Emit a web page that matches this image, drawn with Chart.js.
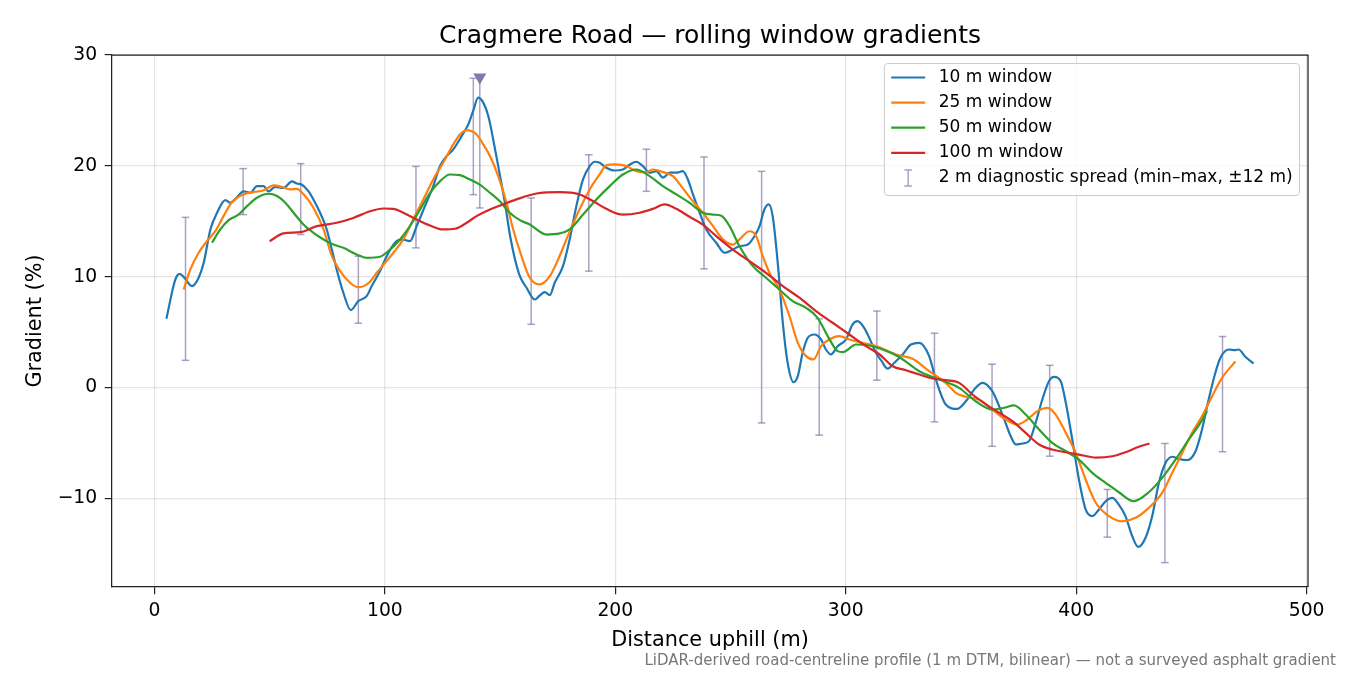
<!DOCTYPE html>
<html>
<head>
<meta charset="utf-8">
<title>Cragmere Road — rolling window gradients</title>
<script src="https://cdn.jsdelivr.net/npm/chart.js@4.4.1/dist/chart.umd.min.js"></script>
<style>
  html, body { margin: 0; padding: 0; background: #fff; }
</style>
</head>
<body>
<canvas id="gradChart" width="1350" height="675"></canvas>
<script>
// Profils de pente (distance en m, pente en %)
const dist10 = [5.2, 9.1, 11, 13, 16.3, 19.2, 21.4, 24.3, 27.2, 30.8, 32.9, 35.1, 38.7, 41.6, 44.5, 47.4, 49.5, 52.4, 56, 59.7,
  61.8, 64, 66.9, 69, 71.9, 74.8, 77, 79.1, 82, 85.2, 88.5, 92.1, 94.3, 97.9, 100.8, 104.4, 107.3, 110.9, 113.8, 117.4,
  121, 123.9, 126.8, 129.7, 133.3, 136.2, 138.3, 140.5, 142.7, 144.9, 147, 149.2, 152.1, 154.6, 158.3, 161.5, 165.1, 167.2, 169.4, 171.6,
  173.7, 177.3, 180.2, 183.1, 186, 188.9, 191.1, 193.2, 196.1, 199.7, 203.3, 206.2, 209.1, 212, 214.9, 217.8, 220.7, 223.6, 226.5, 229.3,
  231.5, 233.7, 236.6, 239.5, 243.8, 247.4, 251, 253.9, 257.5, 260.4, 262.6, 264.7, 266.6, 268.3, 270.5, 272.7, 274.8, 277.3, 279.2, 281.3,
  283.5, 286.4, 289.3, 291.4, 293.6, 296.5, 300.1, 303, 305.1, 308, 310.2, 313.1, 315.5, 318.2, 321.1, 324.7, 328.3, 331.9, 336.2, 339.1,
  343.4, 348.4, 352.1, 356.4, 359.3, 363.6, 368, 371.6, 373.8, 376.6, 379.5, 382.4, 385.3, 388.2, 390.4, 393.3, 395.5, 398.3, 401.2, 404.1,
  407, 409.9, 412.8, 415.7, 418.5, 421.4, 424.3, 426.9, 430.1, 433, 435.9, 438.8, 441.7, 444.5, 448.1, 451.8, 454.6, 457.5, 460.4, 462.6,
  466.2, 469.1, 470.5, 473.4, 477];
const grad10 = [6.2, 9.75, 10.26, 9.9, 9.15, 9.9, 11.25, 14.26, 15.77, 16.9, 16.67, 17.0, 17.7, 17.57, 18.17, 18.17, 17.7, 18.1, 18.0, 18.6,
  18.4, 18.3, 17.7, 16.97, 15.77, 14.26, 12.45, 10.65, 8.55, 6.98, 7.8, 8.24, 9.15, 10.5, 11.85, 13.06, 13.36, 13.2, 14.56, 16.36,
  18.17, 19.97, 20.88, 21.48, 22.68, 23.74, 24.94, 26.15, 25.7, 24.5, 22.4, 19.97, 16.67, 13.4, 10.2, 9.0, 7.94, 8.3, 8.6, 8.33,
  9.45, 10.95, 13.36, 16.36, 18.77, 19.97, 20.37, 20.28, 19.83, 19.58, 19.67, 20.1, 20.37, 19.97, 19.38, 19.52, 18.93, 19.38, 19.38, 19.52,
  18.77, 17.42, 15.77, 14.26, 13.06, 12.16, 12.45, 12.75, 12.9, 13.66, 14.56, 16.06, 16.52, 15.46, 11.25, 5.84, 2.23, 0.48, 1.02, 3.13,
  4.48, 4.78, 4.33, 3.43, 2.98, 3.73, 4.33, 5.69, 5.98, 5.39, 4.48, 3.13, 2.4, 1.7, 2.23, 2.98, 3.88, 4.03, 2.83, 0.72,
  -1.53, -1.93, -1.24, -0.03, 0.42, -0.33, -2.44, -4.4, -5.14, -5.05, -4.85, -3.19, -1.08, 0.57, 0.96, 0.57, -1.38, -4.69, -8.3, -11.0,
  -11.6, -11.0, -10.26, -9.96, -10.56, -11.6, -13.4, -14.38, -13.56, -11.6, -8.6, -6.8, -6.25, -6.44, -6.56, -5.75, -3.79, -1.08, 1.33, 2.68,
  3.43, 3.37, 3.43, 2.77, 2.17];

const dist25 = [12.7, 15.6, 19.2, 22.8, 26.4, 30, 33.7, 38.7, 43, 47.4, 51.7, 55.3, 58.9, 61.8, 65.4, 69, 73.4, 77, 80.6, 84.9,
  88.5, 93.1, 96.5, 100.1, 103.7, 108, 112.3, 116.7, 121, 125.3, 129.7, 132.6, 135.5, 139.8, 142.7, 145.6, 149.2, 152.8, 155.7, 159.3,
  162.9, 167.2, 171.6, 175.2, 178.8, 183.8, 188.9, 193.2, 196.1, 200.4, 204.8, 209.1, 213.4, 216.3, 220.7, 225, 228.6, 233, 238, 242.4,
  246.7, 251, 253.9, 258.2, 261.1, 264, 266.9, 271.2, 275.6, 279.2, 282.8, 286, 289.3, 292.9, 297.2, 301.6, 307.3, 313.1, 318.2, 321.8,
  329, 336.2, 343.4, 347.8, 352.1, 357.9, 363.6, 369.4, 374.4, 378.8, 383.1, 387.5, 391.1, 395.5, 399.8, 404.1, 408.5, 414.2, 420, 425.8,
  431.5, 437.3, 441.7, 446, 450.3, 454.6, 459, 463.3, 469.1];
const grad25 = [8.84, 10.65, 12.16, 13.2, 14.1, 15.46, 16.73, 17.42, 17.63, 17.8, 18.23, 18.1, 17.87, 17.93, 17.27, 16.22, 14.26, 11.85, 10.5, 9.45,
  9.05, 9.45, 10.35, 11.25, 12.16, 13.36, 15.16, 16.97, 18.77, 20.28, 21.93, 22.83, 23.22, 22.83, 21.93, 20.88, 19.07, 16.67, 14.26, 11.85,
  9.9, 9.3, 10.05, 11.55, 13.36, 15.77, 17.87, 19.22, 20.04, 20.13, 19.97, 19.52, 19.43, 19.67, 19.43, 19.07, 18.17, 16.97, 15.77, 14.56,
  13.36, 12.9, 13.36, 14.1, 13.66, 11.85, 10.35, 8.84, 6.43, 4.03, 2.83, 2.53, 3.73, 4.33, 4.63, 4.33, 4.03, 3.73, 3.3, 2.98,
  2.59, 1.47, 0.42, -0.48, -0.84, -1.08, -1.99, -2.89, -3.34, -2.89, -2.14, -1.83, -2.44, -4.09, -5.9, -8.3, -10.4, -11.6, -12.07, -11.76,
  -10.86, -9.5, -7.7, -5.9, -4.09, -2.59, -0.78, 0.87, 2.35];

const dist50 = [25, 28.6, 32.2, 36.5, 40.2, 44.5, 49.5, 53.2, 56.8, 60.4, 64.7, 69, 73.4, 77.7, 82, 87.8, 92.1, 97.9, 102.3, 106.6,
  110.9, 115.3, 119.6, 123.9, 128.2, 132.6, 136.9, 141.2, 145.6, 149.9, 154.2, 158.6, 162.9, 170.1, 175.9, 180.2, 186, 191.8, 197.6, 203.3,
  209.1, 214.9, 220.7, 226.5, 232.2, 238, 242.4, 246, 249.6, 253.9, 259.7, 265.4, 271.2, 277, 282.8, 287.8, 292.2, 296.5, 298.7, 304.5,
  310.2, 316, 323.2, 331.9, 340.6, 349.2, 356.4, 363.6, 368.7, 373, 378.1, 383.9, 389.6, 395.5, 401.2, 407, 412.8, 418.5, 425, 431.5,
  437.3, 443.1, 448.9, 453.9, 456.8];
const grad50 = [13.06, 14.26, 15.1, 15.6, 16.36, 17.12, 17.48, 17.27, 16.67, 15.77, 14.7, 13.96, 13.36, 12.9, 12.6, 12.0, 11.7, 11.8, 12.45, 13.36,
  14.56, 16.06, 17.57, 18.6, 19.22, 19.16, 18.77, 18.3, 17.57, 16.8, 15.77, 15.1, 14.7, 13.8, 13.9, 14.26, 15.6, 16.97, 18.17, 19.22,
  19.67, 19.07, 18.17, 17.42, 16.67, 15.77, 15.6, 15.5, 14.56, 12.75, 10.95, 9.9, 8.84, 7.79, 7.19, 6.29, 4.63, 3.28, 3.19, 3.88,
  3.79, 3.43, 2.75, 1.47, 0.72, -0.03, -1.24, -1.99, -1.83, -1.62, -2.44, -3.79, -4.99, -5.75, -6.5, -7.7, -8.6, -9.45, -10.26, -9.45,
  -8.15, -6.5, -4.69, -3.19, -2.14];

const dist100 = [50, 56, 63.3, 70.5, 79.1, 86.3, 93.6, 99.4, 103.7, 108, 113.8, 119.6, 125.3, 130.4, 135.5, 139.8, 145.6, 151.3, 157.1, 165.8,
  175.9, 184.6, 190.3, 196.1, 203.3, 210.6, 216.3, 221.4, 226.5, 232.2, 238, 243.8, 251, 258.2, 265.4, 272.7, 279.9, 287.1, 294.3, 301.6,
  308.8, 314.6, 320.4, 326.1, 331.9, 337.6, 343.4, 349.2, 355, 360.8, 366.6, 372.3, 378.1, 383.9, 389.6, 395.5, 401.2, 408.5, 415.7, 421.4,
  427.2, 431.8];
const grad100 = [13.2, 13.9, 14.02, 14.56, 14.86, 15.3, 15.9, 16.15, 16.12, 15.77, 15.16, 14.62, 14.26, 14.32, 14.86, 15.46, 16.06, 16.52, 16.97, 17.5,
  17.63, 17.42, 16.82, 16.12, 15.6, 15.77, 16.12, 16.52, 16.12, 15.4, 14.7, 13.66, 12.45, 11.4, 10.35, 9.15, 8.1, 6.89, 5.84, 4.78,
  3.73, 3.0, 1.92, 1.56, 1.17, 0.81, 0.66, 0.42, -0.63, -1.53, -2.28, -3.04, -4.09, -5.14, -5.6, -5.84, -6.05, -6.32, -6.2, -5.84,
  -5.35, -5.05];

// Dispersion diagnostique 2 m (min–max sur ±12 m)
const spreadX = [13.5, 38.5, 63.5, 88.5, 113.5, 138.4, 141.2, 163.5, 188.5, 213.5, 238.5, 263.5, 288.5, 313.5, 338.5, 363.5, 388.5, 413.5, 438.5, 463.5];
const spreadLo = [2.45, 15.6, 13.8, 5.8, 12.6, 17.4, 16.2, 5.7, 10.5, 17.7, 10.7, -3.2, -4.3, 0.66, -3.1, -5.3, -6.2, -13.5, -15.8, -5.8];
const spreadHi = [15.35, 19.75, 20.2, 11.85, 19.95, 27.9, 28.0, 17.1, 21.0, 21.5, 20.8, 19.5, 6.2, 6.9, 4.9, 2.1, 2.0, -9.2, -5.05, 4.6];

// Marqueur du pic
const peakX = [141.2];
const peakY = [28];

const xTicks = [0, 100, 200, 300, 400, 500];
const yTicks = [-10, 0, 10, 20, 30];

const chartTitle = 'Cragmere Road — rolling window gradients';
const footnote = 'LiDAR-derived road-centreline profile (1 m DTM, bilinear) — not a surveyed asphalt gradient';

const FONT = "'DejaVu Sans', 'Liberation Sans', sans-serif";
const SPREAD_COLOR = 'rgba(128, 110, 165, 0.65)';

function toPoints(xs, ys) {
    return xs.map((x, i) => ({ x: x, y: ys[i] }));
}

// Segments verticaux séparés par des trous (null)
function spreadPoints() {
    const pts = [];
    spreadX.forEach((x, i) => {
        pts.push({ x: x, y: spreadLo[i] });
        pts.push({ x: x, y: spreadHi[i] });
        pts.push({ x: x, y: null });
    });
    return pts;
}

function lineSet(label, xs, ys, color, order) {
    return {
        label: label,
        data: toPoints(xs, ys),
        borderColor: color,
        backgroundColor: color,
        borderWidth: 2.2,
        pointRadius: 0,
        fill: false,
        cubicInterpolationMode: 'monotone',
        order: order
    };
}

// Titre, cadre, légende et note de bas de page
const annotatePlugin = {
    id: 'annotate',
    afterDraw(chart) {
        const ctx = chart.ctx;
        const a = chart.chartArea;
        ctx.save();

        // cadre haut et droite
        ctx.strokeStyle = '#222';
        ctx.lineWidth = 1.25;
        ctx.beginPath();
        ctx.moveTo(a.left, a.top);
        ctx.lineTo(a.right, a.top);
        ctx.lineTo(a.right, a.bottom);
        ctx.stroke();

        // titre
        ctx.fillStyle = '#000';
        ctx.font = '25px ' + FONT;
        ctx.textAlign = 'center';
        ctx.textBaseline = 'alphabetic';
        ctx.fillText(chartTitle, (a.left + a.right) / 2, a.top - 12.5);

        // note
        ctx.fillStyle = '#777';
        ctx.font = '15px ' + FONT;
        ctx.textAlign = 'right';
        ctx.fillText(footnote, chart.width - 14, chart.height - 10);

        // légende
        const fs = 17;
        ctx.font = fs + 'px ' + FONT;
        const items = chart.data.datasets.filter(d => d.legend !== false);
        let maxW = 0;
        items.forEach(d => { maxW = Math.max(maxW, ctx.measureText(d.label).width); });
        const pad = 0.4 * fs, handle = 2 * fs, gap = 0.8 * fs;
        const boxW = pad + handle + gap + maxW + pad;
        const rowH = 25.1;
        const boxH = 132;
        const boxR = a.right - 0.5 * fs;
        const boxL = boxR - boxW;
        const boxT = a.top + 0.5 * fs;

        ctx.beginPath();
        ctx.roundRect(boxL, boxT, boxW, boxH, 3.5);
        ctx.fillStyle = 'rgba(255,255,255,0.8)';
        ctx.fill();
        ctx.strokeStyle = '#cccccc';
        ctx.lineWidth = 1;
        ctx.stroke();

        items.forEach((d, i) => {
            const cy = boxT + 14 + i * rowH;
            const hx = boxL + pad;
            if (d.isSpread) {
                const mx = hx + handle / 2;
                ctx.strokeStyle = SPREAD_COLOR;
                ctx.lineWidth = 1.5;
                ctx.beginPath();
                ctx.moveTo(mx, cy - 8); ctx.lineTo(mx, cy + 8);
                ctx.moveTo(mx - 3.8, cy - 8); ctx.lineTo(mx + 3.8, cy - 8);
                ctx.moveTo(mx - 3.8, cy + 8); ctx.lineTo(mx + 3.8, cy + 8);
                ctx.stroke();
            } else {
                ctx.strokeStyle = d.borderColor;
                ctx.lineWidth = 2.2;
                ctx.beginPath();
                ctx.moveTo(hx, cy); ctx.lineTo(hx + handle, cy);
                ctx.stroke();
            }
            ctx.fillStyle = '#000';
            ctx.textAlign = 'left';
            ctx.textBaseline = 'middle';
            ctx.fillText(d.label, hx + handle + gap, cy);
        });

        ctx.restore();
    }
};

const ctx = document.getElementById('gradChart').getContext('2d');
const gradChart = new Chart(ctx, {
    type: 'line',
    data: {
        datasets: [
            lineSet('10 m window', dist10, grad10, '#1f77b4', 4),
            lineSet('25 m window', dist25, grad25, '#ff7f0e', 3),
            lineSet('50 m window', dist50, grad50, '#2ca02c', 2),
            lineSet('100 m window', dist100, grad100, '#d62728', 1),
            {
                label: '2 m diagnostic spread (min–max, ±12 m)',
                isSpread: true,
                data: spreadPoints(),
                borderColor: SPREAD_COLOR,
                borderWidth: 1.5,
                spanGaps: false,
                tension: 0,
                pointStyle: 'line',
                pointRadius: 3.8,
                pointBorderColor: SPREAD_COLOR,
                pointBorderWidth: 1.5,
                order: 5
            },
            {
                label: 'peak',
                legend: false,
                data: toPoints(peakX, peakY),
                showLine: false,
                pointStyle: 'triangle',
                rotation: 180,
                pointRadius: 7.5,
                pointBackgroundColor: '#8878aa',
                pointBorderColor: '#8878aa',
                pointBorderWidth: 0,
                clip: false,
                order: 0
            }
        ]
    },
    options: {
        responsive: false,
        animation: false,
        layout: { padding: { top: 55, right: 42, bottom: 0, left: 0 } },
        plugins: {
            legend: { display: false },
            tooltip: { enabled: false },
            title: { display: false }
        },
        scales: {
            x: {
                type: 'linear',
                min: -18.4,
                max: 500.6,
                afterFit: s => { s.height = 88; },
                afterBuildTicks: s => { s.ticks = xTicks.map(v => ({ value: v })); },
                ticks: {
                    font: { family: FONT, size: 18.75 },
                    color: '#000',
                    padding: 5.5,
                    maxRotation: 0,
                    autoSkip: false
                },
                grid: {
                    color: 'rgba(0,0,0,0.1)',
                    lineWidth: 1.2,
                    tickColor: '#222',
                    tickLength: 7.3,
                    tickWidth: 1.2
                },
                border: { display: true, color: '#222', width: 1.25 },
                title: {
                    display: true,
                    text: 'Distance uphill (m)',
                    font: { family: FONT, size: 20.8 },
                    color: '#000',
                    padding: { top: 0, bottom: 22 }
                }
            },
            y: {
                type: 'linear',
                min: -18,
                max: 30,
                afterFit: s => { s.width = 112; },
                afterBuildTicks: s => { s.ticks = yTicks.map(v => ({ value: v })); },
                ticks: {
                    font: { family: FONT, size: 18.75 },
                    color: '#000',
                    padding: 7.5,
                    autoSkip: false,
                    callback: v => (v < 0 ? '\u2212' + Math.abs(v) : String(v))
                },
                grid: {
                    color: 'rgba(0,0,0,0.1)',
                    lineWidth: 1.2,
                    tickColor: '#222',
                    tickLength: 7.3,
                    tickWidth: 1.2
                },
                border: { display: true, color: '#222', width: 1.25 },
                title: {
                    display: true,
                    text: 'Gradient (%)',
                    font: { family: FONT, size: 20.8 },
                    color: '#000',
                    padding: { top: 23.5, bottom: 0 }
                }
            }
        }
    },
    plugins: [annotatePlugin]
});
</script>
</body>
</html>
